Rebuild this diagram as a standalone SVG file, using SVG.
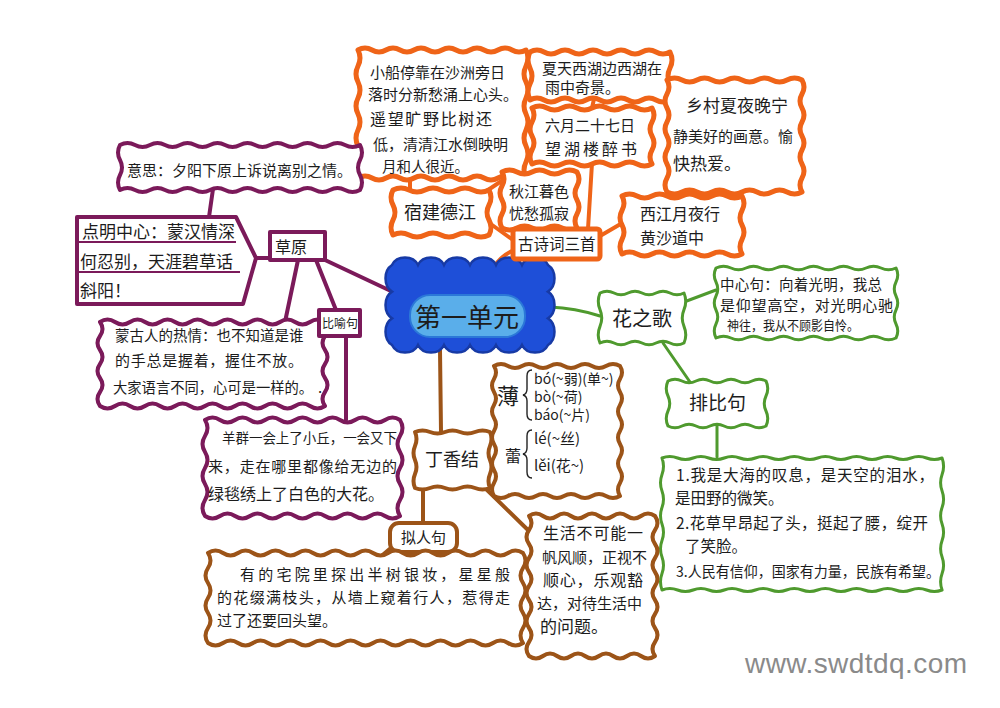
<svg xmlns="http://www.w3.org/2000/svg" width="1000" height="708" viewBox="0 0 1000 708">
<style>
.t{font-family:"Noto Sans CJK SC","Noto Sans",sans-serif;fill:#1c1c1c}
.or{fill:#fff;stroke:#ef6418;stroke-width:5;stroke-linejoin:round}
.pu{fill:#fff;stroke:#7b1a5a;stroke-width:4;stroke-linejoin:round}
.gr{fill:#fff;stroke:#4f9a2e;stroke-width:3;stroke-linejoin:round}
.br{fill:#fff;stroke:#9c5418;stroke-width:4;stroke-linejoin:round}
.cor{fill:none;stroke:#ef6418;stroke-width:4;stroke-linecap:round}
.cpu{fill:none;stroke:#7b1a5a;stroke-width:4;stroke-linecap:round}
.cgr{fill:none;stroke:#4f9a2e;stroke-width:3;stroke-linecap:round}
.cbr{fill:none;stroke:#9c5418;stroke-width:4;stroke-linecap:round}
.ul{fill:none;stroke:#7b1a5a;stroke-width:2}
.brace{fill:none;stroke:#222;stroke-width:1.4}
</style>
<rect width="1000" height="708" fill="#fff"/>

<g id="connectors">
<path class="cor" d="M492,270 Q500,256 514,250"/>
<path class="cor" d="M513,240 L488,222"/>
<path class="cor" d="M485,192 L503,180"/>
<path class="cor" d="M410,190 L410,177"/>
<path class="cor" d="M588,229 L592,163"/>
<path class="cor" d="M592,108 L594,99"/>
<path class="cor" d="M600,236 L624,222"/>
<path class="cor" d="M703,197 L706,191"/>
<path class="cpu" d="M325,260 L393,292"/>
<path class="cpu" d="M270,258 L256,258"/>
<path class="cpu" d="M213,189 L209,217"/>
<path class="cpu" d="M298,260 L285,322"/>
<path class="cpu" d="M316,260 L336,310"/>
<path class="cpu" d="M346,337 L346,420"/>
<path class="cgr" d="M550,307 Q575,308 600,316"/>
<path class="cgr" d="M684,302 L716,290"/>
<path class="cgr" d="M663,343 L690,382"/>
<path class="cgr" d="M717,425 L717,457"/>
<path class="cbr" d="M440,350 L441,432"/>
<path class="cbr" d="M488,440 L497,432"/>
<path class="cbr" d="M423,487 L423,523"/>
<path class="cbr" d="M392,547 L372,564"/>
<path class="cbr" d="M484,487 L530,532"/>
</g>

<g id="center">
<path d="M392,265 a14,12 0 0 1 26,0 a14,12 0 0 1 26,0 a14,12 0 0 1 26,0 a14,12 0 0 1 26,0 a14,12 0 0 1 26,0 a14,12 0 0 1 26,0 a12,15 0 0 1 0,26.67 a12,15 0 0 1 0,26.67 a12,15 0 0 1 0,26.66 a14,12 0 0 1 -26,0 a14,12 0 0 1 -26,0 a14,12 0 0 1 -26,0 a14,12 0 0 1 -26,0 a14,12 0 0 1 -26,0 a14,12 0 0 1 -26,0 a12,15 0 0 1 0,-26.67 a12,15 0 0 1 0,-26.67 a12,15 0 0 1 0,-26.66 z" fill="#1e4fd8" stroke="#173aa5" stroke-width="2.5"/>
<rect x="410" y="295" width="115" height="42" rx="20" fill="#5aaeea" stroke="#2b78d8" stroke-width="2"/>
<text class="t" x="467" y="327" font-size="26" text-anchor="middle">第一单元</text>
</g>

<g id="n-xiaochuan">
<path class="or" d="M358,50 q7,-4 14,0 t14,0 t14,0 t14,0 t14,0 t14,0 t14,0 t14,0 t14,0 t14,0 t14,0 t14,0 q4,8 0,16 t0,16 t0,16 t0,16 t0,16 t0,16 t0,16 t0,16 q-7,4 -14,0 t-14,0 t-14,0 t-14,0 t-14,0 t-14,0 t-14,0 t-14,0 t-14,0 t-14,0 t-14,0 t-14,0 q-4,-8 0,-16 t0,-16 t0,-16 t0,-16 t0,-16 t0,-16 t0,-16 t0,-16 z"/>
<text class="t" font-size="15" x="370" y="78">小船停靠在沙洲旁日</text>
<text class="t" font-size="15" x="368" y="100">落时分新愁涌上心头。</text>
<text class="t" font-size="16" x="370" y="125" textLength="122">遥望旷野比树还</text>
<text class="t" font-size="15" x="373" y="150">低，清清江水倒映明</text>
<text class="t" font-size="14.5" x="382" y="172">月和人很近。</text>
</g>

<g id="n-xiatian">
<path class="or" d="M530,52 q7,-4 14,0 t14,0 t14,0 t14,0 t14,0 t14,0 t14,0 t14,0 t14,0 t14,0 q4,8 0,16 t0,16 t0,16 q-7,4 -14,0 t-14,0 t-14,0 t-14,0 t-14,0 t-14,0 t-14,0 t-14,0 t-14,0 t-14,0 q-4,-8 0,-16 t0,-16 t0,-16 z"/>
<text class="t" font-size="15" x="542" y="74">夏天西湖边西湖在</text>
<text class="t" font-size="15" x="545" y="93">雨中奇景。</text>
</g>

<g id="n-liuyue">
<path class="or" d="M532,108 q7.5,-4 15,0 t15,0 t15,0 t15,0 t15,0 t15,0 t15,0 t15,0 q4,7 0,14 t0,14 t0,14 t0,14 q-7.5,4 -15,0 t-15,0 t-15,0 t-15,0 t-15,0 t-15,0 t-15,0 t-15,0 q-4,-7 0,-14 t0,-14 t0,-14 t0,-14 z"/>
<text class="t" font-size="15" x="545" y="131">六月二十七日</text>
<text class="t" font-size="16" x="545" y="155" textLength="92">望湖楼醉书</text>
</g>

<g id="n-xiangcun">
<path class="or" d="M667,80 q7.5,-4 15,0 t15,0 t15,0 t15,0 t15,0 t15,0 t15,0 t15,0 t15,0 q4,7 0,14 t0,14 t0,14 t0,14 t0,14 t0,14 t0,14 t0,14 q-7.5,4 -15,0 t-15,0 t-15,0 t-15,0 t-15,0 t-15,0 t-15,0 t-15,0 t-15,0 q-4,-7 0,-14 t0,-14 t0,-14 t0,-14 t0,-14 t0,-14 t0,-14 t0,-14 z"/>
<text class="t" font-size="17" x="686" y="112">乡村夏夜晚宁</text>
<text class="t" font-size="15" x="673" y="142">静美好的画意。愉</text>
<text class="t" font-size="17" x="673" y="170">快热爱。</text>
</g>

<g id="n-sujiande">
<path class="or" d="M393,190 q8,-4 16,0 t16,0 t16,0 t16,0 t16,0 t16,0 q4,7.5 0,15 t0,15 t0,15 q-8,4 -16,0 t-16,0 t-16,0 t-16,0 t-16,0 t-16,0 q-4,-7.5 0,-15 t0,-15 t0,-15 z"/>
<text class="t" font-size="18" x="404" y="219">宿建德江</text>
</g>

<g id="n-qiujiang">
<path class="or" d="M502,172 q7.5,-4 15,0 t15,0 t15,0 t15,0 t15,0 q4,7 0,14 t0,14 t0,14 t0,14 q-7.5,4 -15,0 t-15,0 t-15,0 t-15,0 t-15,0 q-4,-7 0,-14 t0,-14 t0,-14 t0,-14 z"/>
<text class="t" font-size="15" x="509" y="197">秋江暮色</text>
<text class="t" font-size="15" x="509" y="219">忧愁孤寂</text>
</g>

<g id="n-gushici">
<rect class="or" x="513" y="229" width="87" height="30" rx="3"/>
<text class="t" font-size="15.5" x="518" y="250">古诗词三首</text>
</g>

<g id="n-xijiangyue">
<path class="or" d="M622,196 q7.5,-4 15,0 t15,0 t15,0 t15,0 t15,0 t15,0 t15,0 t15,0 q4,7.25 0,14.5 t0,14.5 t0,14.5 t0,14.5 q-7.5,4 -15,0 t-15,0 t-15,0 t-15,0 t-15,0 t-15,0 t-15,0 t-15,0 q-4,-7.25 0,-14.5 t0,-14.5 t0,-14.5 t0,-14.5 z"/>
<text class="t" font-size="16" x="640" y="220">西江月夜行</text>
<text class="t" font-size="16" x="640" y="244">黄沙道中</text>
</g>

<g id="n-yisi">
<path class="pu" d="M120,145 q7.5,-4 15,0 t15,0 t15,0 t15,0 t15,0 t15,0 t15,0 t15,0 t15,0 t15,0 t15,0 t15,0 t15,0 t15,0 t15,0 t15,0 q4,7.5 0,15 t0,15 t0,15 q-7.5,4 -15,0 t-15,0 t-15,0 t-15,0 t-15,0 t-15,0 t-15,0 t-15,0 t-15,0 t-15,0 t-15,0 t-15,0 t-15,0 t-15,0 t-15,0 t-15,0 q-4,-7.5 0,-15 t0,-15 t0,-15 z"/>
<text class="t" font-size="15" x="127" y="176">意思：夕阳下原上诉说离别之情。</text>
</g>

<g id="n-dianming">
<polygon class="pu" points="77,217 236,217 256,258 243,304 77,304"/>
<path class="ul" d="M79,242 L236,242 M79,272 L240,272"/>
<text class="t" font-size="17" x="82" y="238">点明中心：蒙汉情深</text>
<text class="t" font-size="17" x="80" y="268">何忍别，天涯碧草话</text>
<text class="t" font-size="17" x="80" y="297">斜阳！</text>
</g>

<g id="n-caoyuan">
<rect class="pu" x="270" y="232" width="55" height="28"/>
<text class="t" font-size="16" x="275" y="253">草原</text>
</g>

<g id="n-menggu">
<path class="pu" d="M100,322 q7.5,-5 15,0 t15,0 t15,0 t15,0 t15,0 t15,0 t15,0 t15,0 t15,0 t15,0 t15,0 t15,0 t15,0 t15,0 t15,0 q5,7 0,14 t0,14 t0,14 t0,14 t0,14 t0,14 q-7.5,5 -15,0 t-15,0 t-15,0 t-15,0 t-15,0 t-15,0 t-15,0 t-15,0 t-15,0 t-15,0 t-15,0 t-15,0 t-15,0 t-15,0 t-15,0 q-5,-7 0,-14 t0,-14 t0,-14 t0,-14 t0,-14 t0,-14 z"/>
<text class="t" font-size="14.5" x="115" y="341">蒙古人的热情：也不知道是谁</text>
<text class="t" font-size="15" x="115" y="366" textLength="188">的手总是握着，握住不放。</text>
<text class="t" font-size="14.3" x="113" y="393">大家语言不同，心可是一样的。</text>
<text class="t" font-size="15" x="318" y="393">.</text>
</g>

<g id="n-biyu">
<rect class="pu" x="319" y="310" width="41" height="26"/>
<text class="t" font-size="12" x="322" y="327.5">比喻句</text>
</g>

<g id="n-yangqun">
<path class="pu" d="M205,420 q7.5,-5 15,0 t15,0 t15,0 t15,0 t15,0 t15,0 t15,0 t15,0 t15,0 t15,0 t15,0 t15,0 t15,0 q5,8 0,16 t0,16 t0,16 t0,16 t0,16 t0,16 q-7.5,5 -15,0 t-15,0 t-15,0 t-15,0 t-15,0 t-15,0 t-15,0 t-15,0 t-15,0 t-15,0 t-15,0 t-15,0 t-15,0 q-5,-8 0,-16 t0,-16 t0,-16 t0,-16 t0,-16 t0,-16 z"/>
<text class="t" font-size="13.5" x="222" y="443" textLength="175">羊群一会上了小丘，一会又下</text>
<text class="t" font-size="15" x="208" y="472" textLength="189">来，走在哪里都像给无边的</text>
<text class="t" font-size="16" x="208" y="500">绿毯绣上了白色的大花。</text>
</g>

<g id="n-huazhige">
<path class="gr" d="M600,293 q7,-3.5 14,0 t14,0 t14,0 t14,0 t14,0 t14,0 q3.5,8.33 0,16.67 t0,16.67 t0,16.66 q-7,3.5 -14,0 t-14,0 t-14,0 t-14,0 t-14,0 t-14,0 q-3.5,-8.33 0,-16.67 t0,-16.67 t0,-16.66 z"/>
<text class="t" font-size="20" x="612" y="326">花之歌</text>
</g>

<g id="n-zhongxin">
<path class="gr" d="M716,268 q7.5,-3.5 15,0 t15,0 t15,0 t15,0 t15,0 t15,0 t15,0 t15,0 t15,0 t15,0 t15,0 t15,0 q3.5,7 0,14 t0,14 t0,14 t0,14 t0,14 q-7.5,3.5 -15,0 t-15,0 t-15,0 t-15,0 t-15,0 t-15,0 t-15,0 t-15,0 t-15,0 t-15,0 t-15,0 t-15,0 q-3.5,-7 0,-14 t0,-14 t0,-14 t0,-14 t0,-14 z"/>
<text class="t" font-size="14.5" x="720" y="290" textLength="162">中心句：向着光明，我总</text>
<text class="t" font-size="15" x="720" y="311" textLength="173">是仰望高空，对光明心驰</text>
<text class="t" font-size="13" x="727" y="330" textLength="132" lengthAdjust="spacingAndGlyphs">神往，我从不顾影自怜。</text>
</g>

<g id="n-paibi">
<path class="gr" d="M668,381 q7,-3.5 14,0 t14,0 t14,0 t14,0 t14,0 t14,0 t14,0 q3.5,7.5 0,15 t0,15 t0,15 q-7,3.5 -14,0 t-14,0 t-14,0 t-14,0 t-14,0 t-14,0 t-14,0 q-3.5,-7.5 0,-15 t0,-15 t0,-15 z"/>
<text class="t" font-size="19" x="689" y="410">排比句</text>
</g>

<g id="n-paibi-list">
<path class="gr" d="M662,458 q7.78,-3 15.56,0 t15.56,0 t15.56,0 t15.56,0 t15.56,0 t15.56,0 t15.56,0 t15.56,0 t15.56,0 t15.56,0 t15.56,0 t15.56,0 t15.56,0 t15.56,0 t15.56,0 t15.56,0 t15.56,0 t15.56,0 q3,8.25 0,16.5 t0,16.5 t0,16.5 t0,16.5 t0,16.5 t0,16.5 t0,16.5 t0,16.5 q-7.78,3 -15.56,0 t-15.56,0 t-15.56,0 t-15.56,0 t-15.56,0 t-15.56,0 t-15.56,0 t-15.56,0 t-15.56,0 t-15.56,0 t-15.56,0 t-15.56,0 t-15.56,0 t-15.56,0 t-15.56,0 t-15.56,0 t-15.56,0 t-15.56,0 q-3,-8.25 0,-16.5 t0,-16.5 t0,-16.5 t0,-16.5 t0,-16.5 t0,-16.5 t0,-16.5 t0,-16.5 z"/>
<text class="t" font-size="15.5" x="676" y="481" textLength="258">1.我是大海的叹息，是天空的泪水，</text>
<text class="t" font-size="15.5" x="675" y="504">是田野的微笑。</text>
<text class="t" font-size="15.5" x="676" y="529" textLength="252">2.花草早昂起了头，挺起了腰，绽开</text>
<text class="t" font-size="15.5" x="685" y="552">了笑脸。</text>
<text class="t" font-size="14.5" x="676" y="577" textLength="264" lengthAdjust="spacingAndGlyphs">3.人民有信仰，国家有力量，民族有希望。</text>
</g>

<g id="n-dingxiangjie">
<path class="br" d="M415,432 q7.5,-3 15,0 t15,0 t15,0 t15,0 t15,0 q3,7 0,14 t0,14 t0,14 t0,14 q-7.5,3 -15,0 t-15,0 t-15,0 t-15,0 t-15,0 q-3,-7 0,-14 t0,-14 t0,-14 t0,-14 z"/>
<text class="t" font-size="18" x="425" y="466">丁香结</text>
</g>

<g id="n-duoyin">
<path class="br" d="M494,366 q7,-4 14,0 t14,0 t14,0 t14,0 t14,0 t14,0 t14,0 t14,0 t14,0 q4,6.5 0,13 t0,13 t0,13 t0,13 t0,13 t0,13 t0,13 t0,13 t0,13 t0,13 q-7,4 -14,0 t-14,0 t-14,0 t-14,0 t-14,0 t-14,0 t-14,0 t-14,0 t-14,0 q-4,-6.5 0,-13 t0,-13 t0,-13 t0,-13 t0,-13 t0,-13 t0,-13 t0,-13 t0,-13 t0,-13 z"/>
<text class="t" font-size="22" x="497" y="404">薄</text>
<path class="brace" d="M532,370 q-5,0 -5,6 v13 q0,5 -4,6 q4,1 4,6 v13 q0,6 5,6"/>
<text class="t" font-size="14" x="534" y="384">bó(~弱)(单~)</text>
<text class="t" font-size="14" x="534" y="402">bò(~荷)</text>
<text class="t" font-size="14" x="534" y="420">báo(~片)</text>
<text class="t" font-size="16" x="505" y="462">蕾</text>
<path class="brace" d="M532,430 q-5,0 -5,6 v12 q0,5 -4,6 q4,1 4,6 v12 q0,6 5,6"/>
<text class="t" font-size="15" x="534" y="444">lé(~丝)</text>
<text class="t" font-size="15" x="534" y="471">lěi(花~)</text>
</g>

<g id="n-niren">
<rect class="br" x="390" y="523" width="67" height="29" rx="9"/>
<text class="t" font-size="15" x="401" y="543">拟人句</text>
</g>

<g id="n-zhaiyuan">
<path class="br" d="M208,553 q7.5,-5 15,0 t15,0 t15,0 t15,0 t15,0 t15,0 t15,0 t15,0 t15,0 t15,0 t15,0 t15,0 t15,0 t15,0 t15,0 t15,0 t15,0 t15,0 t15,0 t15,0 t15,0 q5,7.5 0,15 t0,15 t0,15 t0,15 t0,15 t0,15 q-7.5,5 -15,0 t-15,0 t-15,0 t-15,0 t-15,0 t-15,0 t-15,0 t-15,0 t-15,0 t-15,0 t-15,0 t-15,0 t-15,0 t-15,0 t-15,0 t-15,0 t-15,0 t-15,0 t-15,0 t-15,0 t-15,0 q-5,-7.5 0,-15 t0,-15 t0,-15 t0,-15 t0,-15 t0,-15 z"/>
<text class="t" font-size="15" x="240" y="580" textLength="270">有的宅院里探出半树银妆，星星般</text>
<text class="t" font-size="15" x="217" y="603" textLength="293">的花缀满枝头，从墙上窥着行人，惹得走</text>
<text class="t" font-size="15" x="217" y="626">过了还要回头望。</text>
</g>

<g id="n-shenghuo">
<path class="br" d="M529,516 q7,-5 14,0 t14,0 t14,0 t14,0 t14,0 t14,0 t14,0 t14,0 t14,0 q5,7 0,14 t0,14 t0,14 t0,14 t0,14 t0,14 t0,14 t0,14 t0,14 t0,14 q-7,5 -14,0 t-14,0 t-14,0 t-14,0 t-14,0 t-14,0 t-14,0 t-14,0 t-14,0 q-5,-7 0,-14 t0,-14 t0,-14 t0,-14 t0,-14 t0,-14 t0,-14 t0,-14 t0,-14 t0,-14 z"/>
<text class="t" font-size="16" x="543" y="539" textLength="100">生活不可能一</text>
<text class="t" font-size="15" x="542" y="563">帆风顺，正视不</text>
<text class="t" font-size="16" x="543" y="586" textLength="100">顺心，乐观豁</text>
<text class="t" font-size="15" x="537" y="609">达，对待生活中</text>
<text class="t" font-size="17" x="540" y="633">的问题。</text>
</g>

<text x="745" y="673" font-family="Liberation Sans, Arial, sans-serif" font-size="28" fill="#8a8a8a" textLength="222">www.swdtdq.com</text>
</svg>
